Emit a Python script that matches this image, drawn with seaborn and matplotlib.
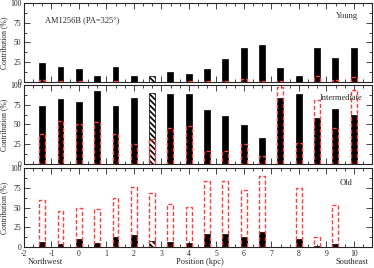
import numpy as np
import pandas as pd
import matplotlib
matplotlib.use('Agg')
import matplotlib.pyplot as plt
from matplotlib.ticker import MultipleLocator
import seaborn as sns

# positions along the slit (kpc)
position = [-1.33, -0.67, 0.0, 0.67, 1.33, 2.0, 2.67, 3.33, 4.0,
            4.67, 5.33, 6.0, 6.67, 7.33, 8.0, 8.67, 9.33, 10.0]

# black bars: contribution in flux
young_x = [24, 19, 16, 8, 19, 7, 8, 13, 10, 16, 29, 43, 47, 18, 7, 43, 30, 43]
inter_x = [74, 82, 79, 92, 74, 83, 90, 89, 89, 68, 61, 49, 33, 83, 89, 58, 69, 62]
old_x = [6, 4, 10, 5, 13, 15, 8, 7, 5, 17, 17, 13, 19, 0, 10, 2, 4, 0]

# red dashed bars: contribution in mass
young_m = [3, 1, 1, 0, 1, 0, 0, 0, 1, 1, 1, 4, 1, 1, 0, 8, 3, 6]
inter_m = [38, 54, 51, 53, 38, 25, 32, 45, 48, 16, 16, 25, 10, 97, 26, 81, 45, 93]
old_m = [60, 46, 49, 48, 62, 76, 68, 55, 51, 84, 83, 72, 90, 0, 75, 13, 53, 0]

hatched_pos = 2.67
panels = [('Young', young_x, young_m),
          ('Intermediate', inter_x, inter_m),
          ('Old', old_x, old_m)]

sns.set_style('ticks')
plt.rcParams['font.family'] = ['Liberation Serif', 'DejaVu Serif']
plt.rcParams['hatch.linewidth'] = 1.2

fig = plt.figure(figsize=(3.74, 2.68), dpi=100)
rects = [[0.064, 0.694, 0.930, 0.295],
         [0.064, 0.388, 0.930, 0.295],
         [0.064, 0.078, 0.930, 0.295]]

red = '#ff4040'
axes = []
for (name, xv, mv), r in zip(panels, rects):
    ax = fig.add_axes(r)
    df = pd.DataFrame({'pos': position, 'flux': xv, 'mass': mv})
    sns.barplot(data=df, x='pos', y='flux', native_scale=True, width=0.33,
                color='black', saturation=1, edgecolor='black', linewidth=0.5,
                errorbar=None, ax=ax, zorder=2)
    for p in ax.patches:
        cx = p.get_x() + p.get_width() / 2
        if abs(cx - hatched_pos) < 0.05:
            p.set_facecolor('white')
            p.set_hatch('\\\\\\\\\\\\')
            p.set_edgecolor('black')
    sns.barplot(data=df[df['mass'] > 0], x='pos', y='mass', native_scale=True,
                width=0.33, fill=False, color=red, linestyle=(0, (3, 1.5)),
                linewidth=1.0, errorbar=None, ax=ax, zorder=3)
    for p in ax.patches:
        if p.get_fill() is False:
            p.set_edgecolor(red)

    ax.set_xlim(-2, 10.65)
    ax.set_ylim(0, 100)
    ax.xaxis.set_major_locator(MultipleLocator(1))
    ax.xaxis.set_minor_locator(MultipleLocator(1 / 3))
    ax.yaxis.set_major_locator(MultipleLocator(25))
    ax.yaxis.set_minor_locator(MultipleLocator(12.5))
    ax.tick_params(which='both', direction='in', top=True, right=True,
                   labelsize=5.5, width=0.6, pad=2)
    ax.tick_params(which='major', length=4)
    ax.tick_params(which='minor', length=2)
    for s in ax.spines.values():
        s.set_linewidth(0.8)
    ax.set_ylabel('Contribution (%)', fontsize=5.5)
    ax.yaxis.set_label_coords(-0.046, 0.5)
    ax.set_xlabel('')
    axes.append(ax)

for ax in axes[:2]:
    ax.set_xticklabels([])
axes[2].set_xticks(range(-2, 11))
axes[2].set_xticklabels([str(i) for i in range(-2, 11)])
axes[2].set_xlim(-2, 10.65)

axes[0].text(-1.24, 78, 'AM1256B (PA=325°)', fontsize=6, va='center')
axes[0].text(9.75, 83, 'Young', fontsize=6, ha='center', va='center')
axes[1].text(8.75, 83, 'Intermediate', fontsize=6, ha='left', va='center')
axes[2].text(9.7, 81, 'Old', fontsize=6, ha='center', va='center')

ylab = 1 - 262 / 268
fig.text(200 / 374, ylab, 'Position (kpc)', fontsize=6, ha='center', va='center')
fig.text(45 / 374, ylab, 'Northwest', fontsize=6, ha='center', va='center')
fig.text(352 / 374, ylab, 'Southeast', fontsize=6, ha='center', va='center')

fig.savefig('out.png', dpi=100)
